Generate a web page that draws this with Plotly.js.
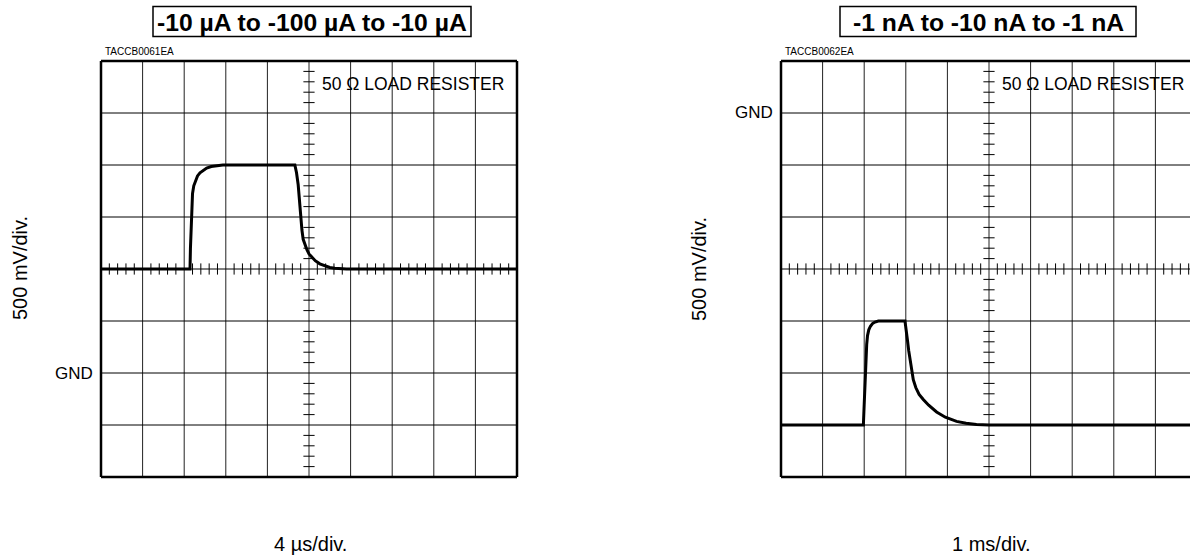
<!DOCTYPE html>
<html>
<head>
<meta charset="utf-8">
<script src="https://cdn.plot.ly/plotly-3.0.1.min.js"></script>
<style>html,body{margin:0;padding:0;background:#fff;}#chart{width:1190px;height:558px;}</style>
</head>
<body>
<div id="chart"></div>
<script>
// ---- data (divisions on the scope graticule) ----
const leftTitle = "-10 µA to -100 µA to -10 µA";
const rightTitle = "-1 nA to -10 nA to -1 nA";
const leftCode = "TACCB0061EA";
const rightCode = "TACCB0062EA";
const loadLabel = "50 Ω LOAD RESISTER";
const yScaleLabel = "500 mV/div.";
const leftXScale = "4 µs/div.";
const rightXScale = "1 ms/div.";
const gndLabel = "GND";
const leftGndDiv = 2;
const rightGndDiv = 7;

const leftX = [0, 2.14, 2.15, 2.165, 2.18, 2.20, 2.23, 2.27, 2.32, 2.38, 2.46, 2.54, 2.65, 2.78, 2.93,
               4.66, 4.70, 4.74, 4.77, 4.80, 4.83, 4.86, 4.90, 4.95, 5.00, 5.06, 5.15, 5.26, 5.38, 5.50, 5.62, 5.75, 5.90, 10];
const leftY = [4, 4, 4.4, 4.85, 5.2, 5.45, 5.6, 5.7, 5.79, 5.85, 5.9, 5.94, 5.97, 5.99, 6.0,
               6.0, 5.85, 5.62, 5.3, 5.0, 4.75, 4.57, 4.46, 4.37, 4.29, 4.23, 4.16, 4.10, 4.06, 4.03, 4.015, 4.005, 4.0, 4];

const rightX = [0, 1.98, 2.00, 2.02, 2.04, 2.06, 2.08, 2.11, 2.15, 2.20, 2.26, 2.34, 2.98,
                3.01, 3.04, 3.07, 3.10, 3.14, 3.18, 3.24, 3.32, 3.42, 3.55, 3.74, 3.95, 4.22, 4.45, 4.70, 5.0, 10];
const rightY = [1, 1, 1.4, 1.85, 2.25, 2.55, 2.72, 2.83, 2.9, 2.95, 2.98, 3.0, 3.0,
                2.85, 2.63, 2.43, 2.25, 2.05, 1.87, 1.72, 1.59, 1.49, 1.38, 1.25, 1.15, 1.07, 1.035, 1.012, 1.0, 1];

// ---- geometry helpers ----
const W = 1190, H = 558;
const DX = 41.6, DY = 52, PAD = 4;
const px = v => v / W;
const py = v => 1 - v / H;

// graticule minor ticks
const hTickX = [], hTickY = [], vTickX = [], vTickY = [];
for (let i = 1; i < 50; i++) { if (i % 5) { hTickX.push(i / 5); hTickY.push(4); } }
for (let i = 1; i < 40; i++) { if (i % 5) { vTickX.push(5); vTickY.push(i / 5); } }

function ticks(xa, ya) {
  return [
    {x: hTickX, y: hTickY, xaxis: xa, yaxis: ya, mode: 'markers', type: 'scatter', hoverinfo: 'skip',
     marker: {symbol: 'line-ns-open', size: 8, color: '#000', line: {width: 1, color: '#000'}}},
    {x: vTickX, y: vTickY, xaxis: xa, yaxis: ya, mode: 'markers', type: 'scatter', hoverinfo: 'skip',
     marker: {symbol: 'line-ew-open', size: 8, color: '#000', line: {width: 1, color: '#000'}}}
  ];
}

const data = [
  ...ticks('x', 'y'),
  ...ticks('x2', 'y2'),
  {x: leftX, y: leftY, xaxis: 'x', yaxis: 'y', mode: 'lines', type: 'scatter',
   line: {color: '#000', width: 3, shape: 'linear'}},
  {x: rightX, y: rightY, xaxis: 'x2', yaxis: 'y2', mode: 'lines', type: 'scatter',
   line: {color: '#000', width: 3, shape: 'linear'}}
];

const axisCommon = {showgrid: false, showticklabels: false, ticks: '', zeroline: false, showline: false, fixedrange: true};

const font = 'Liberation Sans, Arial, Helvetica, sans-serif';

function graticule(xr, yr) {
  const s = [];
  for (let i = 1; i < 10; i++) s.push({type: 'line', xref: xr, yref: yr, x0: i, x1: i, y0: 0, y1: 8, line: {color: '#222', width: 1}, layer: 'below'});
  for (let j = 1; j < 8; j++) s.push({type: 'line', xref: xr, yref: yr, x0: 0, x1: 10, y0: j, y1: j, line: {color: '#000', width: 1}, layer: 'below'});
  s.push(
    {type: 'line', xref: xr, yref: yr, x0: 0, x1: 0, y0: 0, y1: 8, line: {color: '#000', width: 2.5}, layer: 'above'},
    {type: 'line', xref: xr, yref: yr, x0: 10, x1: 10, y0: 0, y1: 8, line: {color: '#000', width: 2.5}, layer: 'above'},
    {type: 'line', xref: xr, yref: yr, x0: 0, x1: 10, y0: 0, y1: 0, line: {color: '#000', width: 2.5}, layer: 'above'},
    {type: 'line', xref: xr, yref: yr, x0: 0, x1: 10, y0: 8, y1: 8, line: {color: '#000', width: 2.5}, layer: 'above'}
  );
  return s;
}

const ann = (text, x, y, opts = {}) => Object.assign({
  text, x: px(x), y: py(y), xref: 'paper', yref: 'paper', showarrow: false,
  xanchor: 'center', yanchor: 'middle', font: {family: font, size: 17, color: '#000'}
}, opts);

const layout = {
  width: W, height: H, autosize: false,
  margin: {l: 0, r: 0, t: 0, b: 0, pad: 0},
  paper_bgcolor: '#fff', plot_bgcolor: '#fff',
  showlegend: false, hovermode: false,
  xaxis: Object.assign({}, axisCommon, {domain: [px(101 - PAD), px(101 + 10 * DX + PAD)], range: [-PAD / DX, 10 + PAD / DX], anchor: 'y'}),
  yaxis: Object.assign({}, axisCommon, {domain: [py(477 + PAD), py(61 - PAD)], range: [-PAD / DY, 8 + PAD / DY], anchor: 'x'}),
  xaxis2: Object.assign({}, axisCommon, {domain: [px(781 - PAD), 1], range: [-PAD / DX, (W - 781) / DX], anchor: 'y2'}),
  yaxis2: Object.assign({}, axisCommon, {domain: [py(477 + PAD), py(61 - PAD)], range: [-PAD / DY, 8 + PAD / DY], anchor: 'x2'}),
  shapes: [
    ...graticule('x', 'y'), ...graticule('x2', 'y2'),
    {type: 'rect', xref: 'paper', yref: 'paper', x0: px(153), x1: px(471), y0: py(36.5), y1: py(6.5), line: {color: '#000', width: 1.5}},
    {type: 'rect', xref: 'paper', yref: 'paper', x0: px(840), x1: px(1136), y0: py(36.5), y1: py(6.5), line: {color: '#000', width: 1.5}}
  ],
  annotations: [
    ann(leftTitle, 312, 22, {font: {family: font, size: 24.7, color: '#000', weight: 'bold'}}),
    ann(rightTitle, 988, 22, {font: {family: font, size: 24.7, color: '#000', weight: 'bold'}}),
    ann(leftCode, 103, 51.5, {xanchor: 'left', font: {family: font, size: 10, color: '#000'}}),
    ann(rightCode, 783, 51.5, {xanchor: 'left', font: {family: font, size: 10, color: '#000'}}),
    ann(loadLabel, 413, 84, {font: {family: font, size: 17.5, color: '#000'}}),
    ann(loadLabel, 1093, 84, {font: {family: font, size: 17.5, color: '#000'}}),
    ann(yScaleLabel, 20, 268, {textangle: -90, font: {family: font, size: 20, color: '#000'}}),
    ann(yScaleLabel, 699, 269, {textangle: -90, font: {family: font, size: 20, color: '#000'}}),
    ann(leftXScale, 310.5, 544, {font: {family: font, size: 20, color: '#000'}}),
    ann(rightXScale, 991, 544, {font: {family: font, size: 20, color: '#000'}}),
    ann(gndLabel, 95, 61 + (8 - leftGndDiv) * DY, {xanchor: 'right'}),
    ann(gndLabel, 775, 61 + (8 - rightGndDiv) * DY, {xanchor: 'right'})
  ]
};

Plotly.newPlot('chart', data, layout, {staticPlot: true, displayModeBar: false});
</script>
</body>
</html>
